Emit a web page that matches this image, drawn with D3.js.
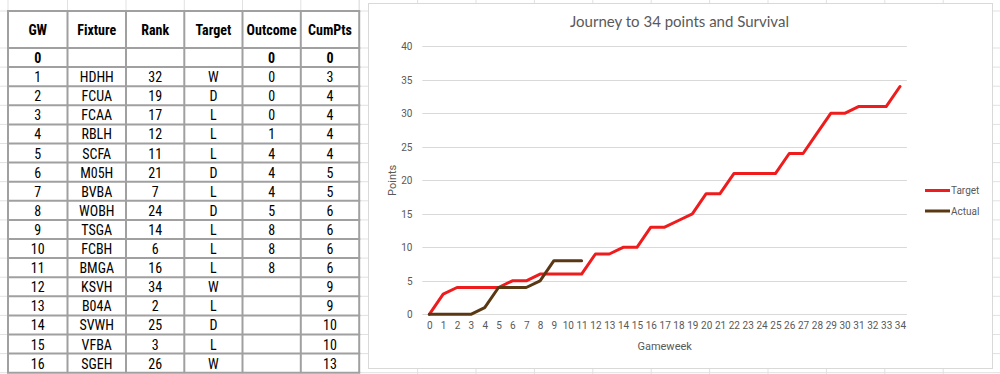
<!DOCTYPE html>
<html>
<head>
<meta charset="utf-8">
<script src="https://cdn.jsdelivr.net/npm/d3@7"></script>
<style>
  html, body { margin: 0; padding: 0; background: #ffffff; }
  svg { display: block; }
</style>
</head>
<body>
<svg id="chart" width="1000" height="374"></svg>
<script>
// ---------- Table data ----------
const tableHeaders = ["GW", "Fixture", "Rank", "Target", "Outcome", "CumPts"];
const tableGW      = [0, 1, 2, 3, 4, 5, 6, 7, 8, 9, 10, 11, 12, 13, 14, 15, 16];
const fixtures     = ["", "HDHH", "FCUA", "FCAA", "RBLH", "SCFA", "M05H", "BVBA", "WOBH", "TSGA", "FCBH", "BMGA", "KSVH", "B04A", "SVWH", "VFBA", "SGEH"];
const ranks        = [null, 32, 19, 17, 12, 11, 21, 7, 24, 14, 6, 16, 34, 2, 25, 3, 26];
const targets      = ["", "W", "D", "L", "L", "L", "D", "L", "D", "L", "L", "L", "W", "L", "D", "L", "W"];
const outcomes     = [0, 0, 0, 0, 1, 4, 4, 4, 5, 8, 8, 8, null, null, null, null, null];
const cumPts       = [0, 3, 4, 4, 4, 4, 5, 5, 6, 6, 6, 6, 9, 9, 10, 10, 13];

// ---------- Chart data ----------
const chartTitle   = "Journey to 34 points and Survival";
const gameweeks    = [0,1,2,3,4,5,6,7,8,9,10,11,12,13,14,15,16,17,18,19,20,21,22,23,24,25,26,27,28,29,30,31,32,33,34];
const targetPts    = [0,3,4,4,4,4,5,5,6,6,6,6,9,9,10,10,13,13,14,15,18,18,21,21,21,21,24,24,27,30,30,31,31,31,34];
const actualPts    = [0,0,0,0,1,4,4,4,5,8,8,8];
const yTicks       = [0, 5, 10, 15, 20, 25, 30, 35, 40];
const seriesNames  = ["Target", "Actual"];
const seriesColors = ["#ee1c1c", "#5a3814"];

const svg = d3.select("#chart");

// ---------- Sheet gridlines ----------
const colEdges = [8, 67.5, 126, 184.3, 242.5, 300.8, 359.2];
const sheetCols = d3.range(0, 12).map(i => 359.2 + 58.4 * i);
const headerTop = 11, headerBottom = 48, rowH = 19.1;
const sheetRows = [headerTop].concat(d3.range(0, 18).map(i => headerBottom + rowH * i));

const grid = svg.append("g").attr("stroke", "#e1e1e1").attr("stroke-width", 1);
colEdges.concat(sheetCols).forEach(x => {
  grid.append("line").attr("x1", x).attr("x2", x).attr("y1", 0).attr("y2", 374);
});
sheetRows.forEach(y => {
  grid.append("line").attr("x1", 0).attr("x2", 1000).attr("y1", y).attr("y2", y);
});

// ---------- Table ----------
const tableFont = "'Liberation Sans Narrow', 'Roboto Condensed', 'Arial Narrow', Roboto, sans-serif";
const tbl = svg.append("g");
const tableBottom = headerBottom + rowH * tableGW.length;
tbl.append("rect")
  .attr("x", colEdges[0]).attr("y", headerTop)
  .attr("width", colEdges[colEdges.length - 1] - colEdges[0])
  .attr("height", tableBottom - headerTop)
  .attr("fill", "#ffffff");

const rowsData = tableGW.map((g, i) => [
  g,
  fixtures[i],
  ranks[i] == null ? "" : ranks[i],
  targets[i],
  outcomes[i] == null ? "" : outcomes[i],
  cumPts[i]
]);

const colCenter = j => (colEdges[j] + colEdges[j + 1]) / 2;

tbl.selectAll("text.hdr").data(tableHeaders).enter().append("text")
  .attr("class", "hdr")
  .attr("x", (d, j) => colCenter(j))
  .attr("y", (headerTop + headerBottom) / 2)
  .attr("text-anchor", "middle")
  .attr("dominant-baseline", "central")
  .attr("font-family", tableFont)
  .attr("font-size", 14)
  .attr("font-weight", "bold")
  .attr("fill", "#000")
  .text(d => d);

rowsData.forEach((row, i) => {
  const cy = headerBottom + rowH * i + rowH / 2;
  row.forEach((v, j) => {
    tbl.append("text")
      .attr("x", colCenter(j))
      .attr("y", cy + 0.5)
      .attr("text-anchor", "middle")
      .attr("dominant-baseline", "central")
      .attr("font-family", tableFont)
      .attr("font-size", 14)
      .attr("font-weight", i === 0 ? "bold" : "normal")
      .attr("fill", "#000")
      .text(v);
  });
});

const borders = tbl.append("g").attr("stroke", "#a0a0a0").attr("stroke-width", 2).attr("fill", "none");
colEdges.forEach(x => {
  borders.append("line").attr("x1", x).attr("x2", x).attr("y1", headerTop).attr("y2", tableBottom);
});
[headerTop].concat(d3.range(0, tableGW.length + 1).map(i => headerBottom + rowH * i)).forEach(y => {
  borders.append("line").attr("x1", colEdges[0] - 1).attr("x2", colEdges[colEdges.length - 1] + 1).attr("y1", y).attr("y2", y);
});

// ---------- Chart area ----------
const chartFont = "Roboto, 'Noto Sans', sans-serif";
svg.append("rect")
  .attr("x", 368.5).attr("y", 3.5).attr("width", 624).attr("height", 365)
  .attr("fill", "#ffffff").attr("stroke", "#d9d9d9").attr("stroke-width", 1);

const plotLeft = 422.4, plotRight = 906.9, plotTop = 46.3, plotBottom = 314.3;
const x = d3.scalePoint().domain(gameweeks).range([plotLeft, plotRight]).padding(0.5);
const y = d3.scaleLinear().domain([0, 40]).range([plotBottom, plotTop]);

// Gridlines
const gridG = svg.append("g");
gridG.selectAll("line").data(yTicks).enter().append("line")
  .attr("x1", plotLeft).attr("x2", plotRight)
  .attr("y1", d => Math.round(y(d)) + 0.5).attr("y2", d => Math.round(y(d)) + 0.5)
  .attr("stroke", "#d9d9d9").attr("stroke-width", 1);

// Y axis labels
const yAxis = d3.axisLeft(y).tickValues(yTicks).tickSize(0).tickPadding(0);
const yG = svg.append("g").attr("transform", `translate(${412.5},0)`).call(yAxis);
yG.select(".domain").remove();
yG.selectAll("text")
  .attr("font-family", chartFont).attr("font-size", 10).attr("fill", "#595959");

// X axis labels
const xAxis = d3.axisBottom(x).tickSize(0).tickPadding(0);
const xG = svg.append("g").attr("transform", `translate(0,${plotBottom + 7.5})`).call(xAxis);
xG.select(".domain").remove();
xG.selectAll("text")
  .attr("font-family", chartFont).attr("font-size", 10).attr("fill", "#595959");

// Axis titles
svg.append("text")
  .attr("x", (plotLeft + plotRight) / 2).attr("y", 349.5)
  .attr("text-anchor", "middle")
  .attr("font-family", chartFont).attr("font-size", 11).attr("fill", "#595959")
  .text("Gameweek");
svg.append("text")
  .attr("transform", `translate(395.5,${(plotTop + plotBottom) / 2}) rotate(-90)`)
  .attr("text-anchor", "middle")
  .attr("font-family", chartFont).attr("font-size", 11).attr("fill", "#595959")
  .text("Points");

// Title (fit to measured width)
const title = svg.append("text")
  .attr("x", 679.5).attr("y", 27)
  .attr("text-anchor", "middle")
  .attr("font-family", "Lato, 'Open Sans', sans-serif")
  .attr("font-size", 15).attr("fill", "#595959")
  .text(chartTitle);
const tw = title.node().getComputedTextLength();
if (tw > 0) title.attr("font-size", 15 * 219 / tw);

// Lines
const line = d3.line().x((d, i) => x(gameweeks[i])).y(d => y(d));
[targetPts, actualPts].forEach((series, k) => {
  svg.append("path")
    .datum(series)
    .attr("d", line)
    .attr("fill", "none")
    .attr("stroke", seriesColors[k])
    .attr("stroke-width", 3)
    .attr("stroke-linejoin", "round")
    .attr("stroke-linecap", "round");
});

// Legend
const legend = svg.append("g");
seriesNames.forEach((name, k) => {
  const ly = 190.5 + k * 20.5;
  legend.append("line")
    .attr("x1", 925).attr("x2", 950).attr("y1", ly).attr("y2", ly)
    .attr("stroke", seriesColors[k]).attr("stroke-width", 3);
  legend.append("text")
    .attr("x", 951).attr("y", ly)
    .attr("dominant-baseline", "central")
    .attr("font-family", chartFont).attr("font-size", 10).attr("fill", "#595959")
    .text(name);
});
</script>
</body>
</html>
